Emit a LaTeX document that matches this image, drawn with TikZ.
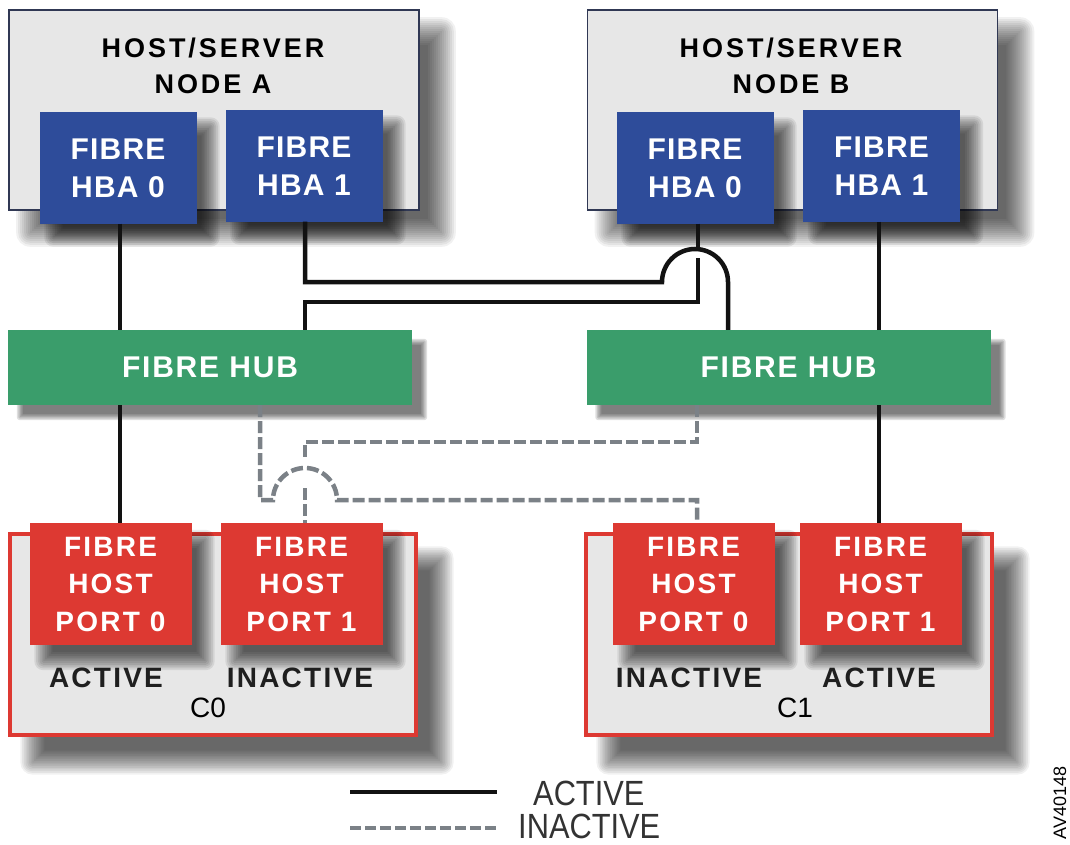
\documentclass[tikz,border=0pt]{standalone}
\usepackage{fontspec}
\usepackage{graphicx}
\setmainfont{Liberation Sans}
\newfontfamily\titlefont{Liberation Sans}[LetterSpace=11]
\newfontfamily\boxfont{Liberation Sans}[LetterSpace=8]
\newfontfamily\hbafont{Liberation Sans}[LetterSpace=4]
\newfontfamily\hubfont{Liberation Sans}[LetterSpace=6]
\usetikzlibrary{calc}
\pgfdeclarelayer{shadowA}
\pgfdeclarelayer{hosts}
\pgfdeclarelayer{shadowB}
\pgfsetlayers{shadowA,hosts,shadowB,main}
\definecolor{hbablue}{RGB}{46,76,154}
\definecolor{hubgreen}{RGB}{58,157,107}
\definecolor{portred}{RGB}{221,57,50}
\definecolor{panelgray}{RGB}{231,231,231}
\definecolor{inactgray}{RGB}{123,129,135}
\definecolor{hostedge}{RGB}{48,56,84}
\definecolor{linkblack}{RGB}{18,18,18}
\tikzset{
  hostbox/.style={draw=hostedge, line width=1.6pt, fill=panelgray, inner sep=0pt,
    minimum width=410pt, minimum height=200pt},
  ctrlbox/.style={draw=portred, line width=3.2pt, fill=panelgray, inner sep=0pt,
    minimum width=406pt, minimum height=201pt},
  hbabox/.style={fill=hbablue, text=white, inner sep=0pt, minimum width=157pt, minimum height=111pt,
    align=center, font=\hbafont\bfseries\fontsize{30}{38}\selectfont},
  portbox/.style={fill=portred, text=white, inner sep=0pt, minimum width=162pt, minimum height=122pt,
    align=center, font=\boxfont\bfseries\fontsize{28}{37.5}\selectfont},
  hubbox/.style={fill=hubgreen, text=white, inner sep=0pt, minimum width=404pt, minimum height=75pt,
    font=\hubfont\bfseries\fontsize{30}{36}\selectfont},
  titletext/.style={align=center, inner sep=0pt, font=\titlefont\bfseries\fontsize{27}{36.5}\selectfont},
  statetext/.style={inner sep=0pt, font=\boxfont\bfseries\fontsize{28}{34}\selectfont, text=black!88},
  ctext/.style={inner sep=0pt, font=\fontsize{28}{32}\selectfont},
  active/.style={draw=linkblack, line width=4.5pt},
  inactive/.style={draw=inactgray, line width=4.5pt, dash pattern=on 12pt off 4pt},
  legendtext/.style={inner sep=0pt, font=\fontsize{35}{40}\selectfont, text=black!80},
}
% soft drop shadow: #1 node, #2 dx, #3 dy, #4 blur radius, #5 steps, #6 opacity per step
\newcommand\softshade[6]{%
  \foreach \k in {0,...,#5}{%
    \pgfmathsetmacro\ee{-#4+2*#4*\k/#5}%
    \pgfmathsetmacro\rr{max(\ee,0.1)}%
    \fill[black, opacity=#6, rounded corners=\rr pt]
      ($(#1.north west)+(#2-\ee,#3-\ee)$) rectangle ($(#1.south east)+(#2+\ee,#3+\ee)$);
  }}
\begin{document}
\begin{tikzpicture}[x=1pt,y=-1pt]
\useasboundingbox (0,0) rectangle (1070,845);
\begin{pgfonlayer}{shadowA}
\fill[white] (0,0) rectangle (1070,845);
\end{pgfonlayer}

% hosts and controllers
\begin{pgfonlayer}{hosts}
\node[hostbox] (hostA) at (214,110) {};
\node[hostbox] (hostB) at (792.5,110) {};
\node[ctrlbox] (ctrlA) at (213,634.5) {};
\node[ctrlbox] (ctrlB) at (789,634.5) {};
\end{pgfonlayer}
\begin{pgfonlayer}{shadowA}
\softshade{hostA}{22}{22}{14}{14}{0.055}
\softshade{hostB}{22}{22}{14}{14}{0.055}
\softshade{ctrlA}{24}{26}{12}{14}{0.055}
\softshade{ctrlB}{24}{26}{12}{14}{0.055}
\end{pgfonlayer}

\node[titletext] (titleA) at (213,66) {HOST/SERVER\\NODE A};
\node[titletext] (titleB) at (791,66) {HOST/SERVER\\NODE B};

% HBAs
\node[hbabox] (hbaA0) at (118,168) {FIBRE\\HBA 0};
\node[hbabox] (hbaA1) at (304,166) {FIBRE\\HBA 1};
\node[hbabox] (hbaB0) at (695,168) {FIBRE\\HBA 0};
\node[hbabox] (hbaB1) at (881.5,166) {FIBRE\\HBA 1};

% hubs
\node[hubbox] (hubA) at (210,367.5) {FIBRE HUB};
\node[hubbox] (hubB) at (788.5,367.5) {FIBRE HUB};

% ports
\node[portbox] (portA0) at (110.5,584) {FIBRE\\HOST\\PORT 0};
\node[portbox] (portA1) at (301.5,584) {FIBRE\\HOST\\PORT 1};
\node[portbox] (portB0) at (693.5,584) {FIBRE\\HOST\\PORT 0};
\node[portbox] (portB1) at (880.5,584) {FIBRE\\HOST\\PORT 1};

\begin{pgfonlayer}{shadowB}
\softshade{hbaA0}{14}{14}{9}{10}{0.08}
\softshade{hbaA1}{14}{14}{9}{10}{0.08}
\softshade{hbaB0}{14}{14}{9}{10}{0.08}
\softshade{hbaB1}{14}{14}{9}{10}{0.08}
\softshade{portA0}{14}{16}{9}{10}{0.08}
\softshade{portA1}{14}{16}{9}{10}{0.08}
\softshade{portB0}{14}{16}{9}{10}{0.08}
\softshade{portB1}{14}{16}{9}{10}{0.08}
\softshade{hubA}{12}{12}{3}{4}{0.13}
\softshade{hubB}{12}{12}{3}{4}{0.13}
\end{pgfonlayer}

\node[statetext] (stA0) at (106,678) {ACTIVE};
\node[statetext] (stA1) at (300,678) {INACTIVE};
\node[statetext] (stB0) at (689,678) {INACTIVE};
\node[statetext] (stB1) at (879,678) {ACTIVE};
\node[ctext] (cA) at (208,708) {C0};
\node[ctext] (cB) at (795,708) {C1};

% x positions of the connectors
\coordinate (xA0) at (120,0);
\coordinate (xA1) at (305,0);
\coordinate (xB0) at (698,0);
\coordinate (xB1) at (879,0);
\coordinate (xHop) at (728,0);
\coordinate (xDL) at (260,0);
\coordinate (xDR) at (697,0);
% bend points
\coordinate (hopA) at (662,282);
\coordinate (crossTop) at (698,247);
\coordinate (crossBot) at (698,258);
\coordinate (turnB) at (698,302);
\coordinate (hopB) at (273,500);
\coordinate (dashTurn) at (305,442);
\coordinate (dashGapTop) at (305,458);
\coordinate (dashGapBot) at (305,488);

% active links
\draw[active] (hbaA0.south -| xA0) -- (hubA.north -| xA0);
\draw[active] (hubA.south -| xA0) -- (portA0.north -| xA0);
\draw[active] (hbaB1.south -| xB1) -- (hubB.north -| xB1);
\draw[active] (hubB.south -| xB1) -- (portB1.north -| xB1);
\draw[active] (hbaA1.south -| xA1) |- (hopA)
   arc[start angle=180, end angle=360, radius=33] -- (hubB.north -| xHop);
\draw[active] (hbaB0.south -| xB0) -- (crossTop);
\draw[active] (crossBot) -- (turnB) -| (hubA.north -| xA1);

% inactive links
\draw[inactive] (hubA.south -| xDL) |- (hopB)
   arc[start angle=180, end angle=360, radius=32] -| (portB0.north -| xDR);
\draw[inactive] (hubB.south -| xDR) |- (dashTurn) -- (dashGapTop);
\draw[inactive] (dashGapBot) -- (portA1.north -| xA1);

% legend
\coordinate (legA1) at (350,792);
\coordinate (legA2) at (497,792);
\coordinate (legI1) at (350,828);
\coordinate (legI2) at (497,828);
\draw[active] (legA1) -- (legA2);
\draw[inactive, dash pattern=on 11pt off 4pt] (legI1) -- (legI2);
\node[legendtext, anchor=west] (legActive) at (533,793) {\scalebox{0.88}[1]{ACTIVE}};
\node[legendtext, anchor=west] (legInactive) at (518,826) {\scalebox{0.88}[1]{INACTIVE}};
\node[rotate=90, inner sep=0pt, font=\fontsize{18}{20}\selectfont] (figcode) at (1060,803) {AV40148};
\end{tikzpicture}
\end{document}
